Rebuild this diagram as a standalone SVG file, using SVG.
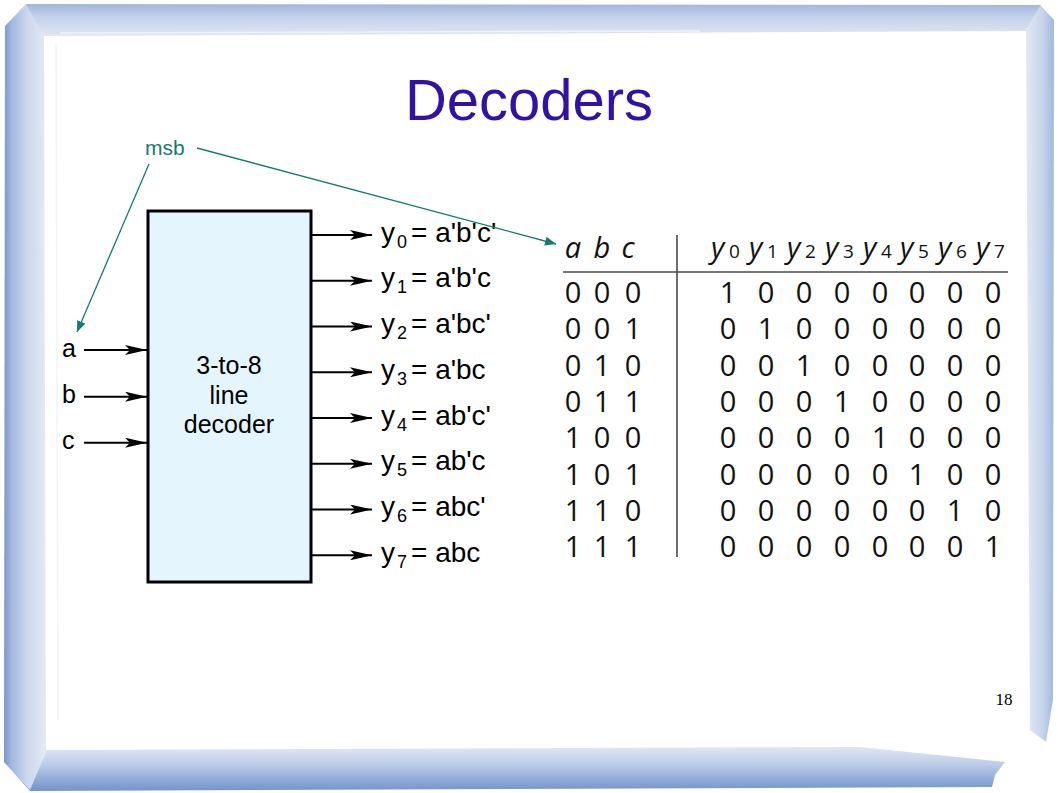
<svg xmlns="http://www.w3.org/2000/svg" width="1058" height="793" viewBox="0 0 1058 793">
<defs>
<linearGradient id="gL" x1="0" y1="0" x2="1" y2="0"><stop offset="0" stop-color="#7A96CD"/><stop offset="0.18" stop-color="#A3B8DF"/><stop offset="0.55" stop-color="#CBD7EC"/><stop offset="1" stop-color="#E4EAF5"/></linearGradient>
<linearGradient id="gT" x1="0" y1="0" x2="0" y2="1"><stop offset="0" stop-color="#A0B5DE"/><stop offset="0.4" stop-color="#C3D1EA"/><stop offset="1" stop-color="#E0E7F3"/></linearGradient>
<linearGradient id="gR" x1="0" y1="0" x2="1" y2="0"><stop offset="0" stop-color="#E2E9F4"/><stop offset="0.6" stop-color="#C6D4EB"/><stop offset="1" stop-color="#A2B7DE"/></linearGradient>
<linearGradient id="gB" x1="0" y1="0" x2="0" y2="1"><stop offset="0" stop-color="#E0E7F3"/><stop offset="0.4" stop-color="#BCCCE8"/><stop offset="0.8" stop-color="#8AA5D4"/><stop offset="1" stop-color="#7393CB"/></linearGradient>
<marker id="arrB" viewBox="0 0 22 10" markerWidth="22" markerHeight="10" refX="22" refY="5" orient="auto" markerUnits="userSpaceOnUse"><path d="M0,0 L22,5 L0,10 L5,5 z" fill="#000"/></marker>
<marker id="arrT" viewBox="0 0 11 9" markerWidth="11" markerHeight="9" refX="11" refY="4.5" orient="auto" markerUnits="userSpaceOnUse"><path d="M0,0 L11,4.5 L0,9 z" fill="#157A6E"/></marker>
<style>
.sans{font-family:"Liberation Sans",Arial,sans-serif;}
.tbl{font-family:"Open Sans","Noto Sans",sans-serif;font-size:29px;fill:#111;text-anchor:middle;}
.hdr{font-family:"Open Sans","Noto Sans",sans-serif;font-size:29px;font-style:italic;fill:#111;}
.sub{font-family:"Open Sans","Noto Sans",sans-serif;font-size:19px;fill:#111;}
.lbl{font-family:"Liberation Sans",Arial,sans-serif;font-size:28px;fill:#000;}
.lsub{font-family:"Liberation Sans",Arial,sans-serif;font-size:18px;fill:#000;}
.wire{stroke:#000;stroke-width:2;fill:none;marker-end:url(#arrB);}
.teal{stroke:#157A6E;stroke-width:1.3;fill:none;marker-end:url(#arrT);}
</style>
</defs>
<rect width="1058" height="793" fill="#fff"/>
<g id="frame">
<polygon points="26,4 1040,5 1054,20 1028,31 44,36 8,26" fill="url(#gT)"/>
<polygon points="1026,30 1040,6 1054,20 1053,700 1046,742 1030,730" fill="url(#gR)"/>
<polygon points="46,750 860,747 1005,762 995,775 992,787 30,791 4,762" fill="url(#gB)"/>
<polygon points="5,26 26,4 44,36 46,752 30,790 4,762" fill="url(#gL)"/>
<line x1="56" y1="45" x2="58" y2="720" stroke="#F1F4FA" stroke-width="1.5"/>
<line x1="60" y1="33" x2="700" y2="31" stroke="#EEF2F9" stroke-width="1.5"/>
</g>
<g id="title"><text x="529" y="120" class="sans" font-size="58" fill="#3112A3" text-anchor="middle">Decoders</text></g>
<g id="msb-label"><text x="145" y="155" class="sans" font-size="21" fill="#157A6E">msb</text></g>
<g id="decoder">
<rect x="148" y="211" width="163" height="371" fill="#E5F5FD" stroke="#000" stroke-width="3"/>
<text class="sans" font-size="25" text-anchor="middle" x="229" y="374">3-to-8</text>
<text class="sans" font-size="25" text-anchor="middle" x="229" y="404">line</text>
<text class="sans" font-size="25" text-anchor="middle" x="229" y="433">decoder</text>
</g>
<g id="inputs" class="sans" font-size="25">
<g id="in-a"><text x="62" y="357">a</text></g>
<g id="in-b"><text x="62" y="403">b</text></g>
<g id="in-c"><text x="62" y="449">c</text></g>
</g>
<g id="outputs">
<g id="out0"><text class="lbl" x="381" y="241.5">y</text><text class="lsub" x="397" y="247.5">0</text><text class="lbl" x="411" y="241.5">= a'b'c'</text></g>
<g id="out1"><text class="lbl" x="381" y="287.3">y</text><text class="lsub" x="397" y="293.3">1</text><text class="lbl" x="411" y="287.3">= a'b'c</text></g>
<g id="out2"><text class="lbl" x="381" y="333">y</text><text class="lsub" x="397" y="339">2</text><text class="lbl" x="411" y="333">= a'bc'</text></g>
<g id="out3"><text class="lbl" x="381" y="378.8">y</text><text class="lsub" x="397" y="384.8">3</text><text class="lbl" x="411" y="378.8">= a'bc</text></g>
<g id="out4"><text class="lbl" x="381" y="424.5">y</text><text class="lsub" x="397" y="430.5">4</text><text class="lbl" x="411" y="424.5">= ab'c'</text></g>
<g id="out5"><text class="lbl" x="381" y="470.3">y</text><text class="lsub" x="397" y="476.3">5</text><text class="lbl" x="411" y="470.3">= ab'c</text></g>
<g id="out6"><text class="lbl" x="381" y="516">y</text><text class="lsub" x="397" y="522">6</text><text class="lbl" x="411" y="516">= abc'</text></g>
<g id="out7"><text class="lbl" x="381" y="561.8">y</text><text class="lsub" x="397" y="567.8">7</text><text class="lbl" x="411" y="561.8">= abc</text></g>
</g>
<g id="truth-table">
<line x1="563" y1="272" x2="1008" y2="272" stroke="#4a4a4a" stroke-width="1.6"/>
<line x1="677" y1="235" x2="677" y2="557" stroke="#4a4a4a" stroke-width="1.6"/>
<text class="hdr" x="573" y="258" text-anchor="middle">a</text>
<text class="hdr" x="602" y="258" text-anchor="middle">b</text>
<text class="hdr" x="628" y="258" text-anchor="middle">c</text>
<text class="hdr" x="711" y="258">y</text><text class="sub" x="729" y="258">0</text>
<text class="hdr" x="749" y="258">y</text><text class="sub" x="767" y="258">1</text>
<text class="hdr" x="787" y="258">y</text><text class="sub" x="805" y="258">2</text>
<text class="hdr" x="825" y="258">y</text><text class="sub" x="843" y="258">3</text>
<text class="hdr" x="863" y="258">y</text><text class="sub" x="881" y="258">4</text>
<text class="hdr" x="900" y="258">y</text><text class="sub" x="918" y="258">5</text>
<text class="hdr" x="938" y="258">y</text><text class="sub" x="956" y="258">6</text>
<text class="hdr" x="976" y="258">y</text><text class="sub" x="994" y="258">7</text>
<g class="tbl">
<text y="303"><tspan x="573">0</tspan><tspan x="602">0</tspan><tspan x="633">0</tspan><tspan x="728">1</tspan><tspan x="766">0</tspan><tspan x="804">0</tspan><tspan x="842">0</tspan><tspan x="880">0</tspan><tspan x="917">0</tspan><tspan x="955">0</tspan><tspan x="993">0</tspan></text>
<text y="339.3"><tspan x="573">0</tspan><tspan x="602">0</tspan><tspan x="633">1</tspan><tspan x="728">0</tspan><tspan x="766">1</tspan><tspan x="804">0</tspan><tspan x="842">0</tspan><tspan x="880">0</tspan><tspan x="917">0</tspan><tspan x="955">0</tspan><tspan x="993">0</tspan></text>
<text y="375.6"><tspan x="573">0</tspan><tspan x="602">1</tspan><tspan x="633">0</tspan><tspan x="728">0</tspan><tspan x="766">0</tspan><tspan x="804">1</tspan><tspan x="842">0</tspan><tspan x="880">0</tspan><tspan x="917">0</tspan><tspan x="955">0</tspan><tspan x="993">0</tspan></text>
<text y="411.9"><tspan x="573">0</tspan><tspan x="602">1</tspan><tspan x="633">1</tspan><tspan x="728">0</tspan><tspan x="766">0</tspan><tspan x="804">0</tspan><tspan x="842">1</tspan><tspan x="880">0</tspan><tspan x="917">0</tspan><tspan x="955">0</tspan><tspan x="993">0</tspan></text>
<text y="448.2"><tspan x="573">1</tspan><tspan x="602">0</tspan><tspan x="633">0</tspan><tspan x="728">0</tspan><tspan x="766">0</tspan><tspan x="804">0</tspan><tspan x="842">0</tspan><tspan x="880">1</tspan><tspan x="917">0</tspan><tspan x="955">0</tspan><tspan x="993">0</tspan></text>
<text y="484.5"><tspan x="573">1</tspan><tspan x="602">0</tspan><tspan x="633">1</tspan><tspan x="728">0</tspan><tspan x="766">0</tspan><tspan x="804">0</tspan><tspan x="842">0</tspan><tspan x="880">0</tspan><tspan x="917">1</tspan><tspan x="955">0</tspan><tspan x="993">0</tspan></text>
<text y="520.8"><tspan x="573">1</tspan><tspan x="602">1</tspan><tspan x="633">0</tspan><tspan x="728">0</tspan><tspan x="766">0</tspan><tspan x="804">0</tspan><tspan x="842">0</tspan><tspan x="880">0</tspan><tspan x="917">0</tspan><tspan x="955">1</tspan><tspan x="993">0</tspan></text>
<text y="557.1"><tspan x="573">1</tspan><tspan x="602">1</tspan><tspan x="633">1</tspan><tspan x="728">0</tspan><tspan x="766">0</tspan><tspan x="804">0</tspan><tspan x="842">0</tspan><tspan x="880">0</tspan><tspan x="917">0</tspan><tspan x="955">0</tspan><tspan x="993">1</tspan></text>
</g>
</g>
<g id="connectors">
<line class="wire" x1="84" y1="350" x2="147" y2="350"/>
<line class="wire" x1="84" y1="396.7" x2="147" y2="396.7"/>
<line class="wire" x1="84" y1="442.7" x2="147" y2="442.7"/>
<line class="wire" x1="311" y1="235" x2="372" y2="235"/>
<line class="wire" x1="311" y1="280.8" x2="372" y2="280.8"/>
<line class="wire" x1="311" y1="326.5" x2="372" y2="326.5"/>
<line class="wire" x1="311" y1="372.3" x2="372" y2="372.3"/>
<line class="wire" x1="311" y1="418" x2="372" y2="418"/>
<line class="wire" x1="311" y1="463.8" x2="372" y2="463.8"/>
<line class="wire" x1="311" y1="509.5" x2="372" y2="509.5"/>
<line class="wire" x1="311" y1="555.3" x2="372" y2="555.3"/>
<line class="teal" x1="149" y1="164" x2="77" y2="332"/>
<line class="teal" x1="197" y1="148" x2="556" y2="244"/>
</g>
<g id="page-number"><text x="1004" y="705" font-family="'Liberation Serif','Times New Roman',serif" font-size="17" text-anchor="middle" fill="#000">18</text></g>
</svg>
